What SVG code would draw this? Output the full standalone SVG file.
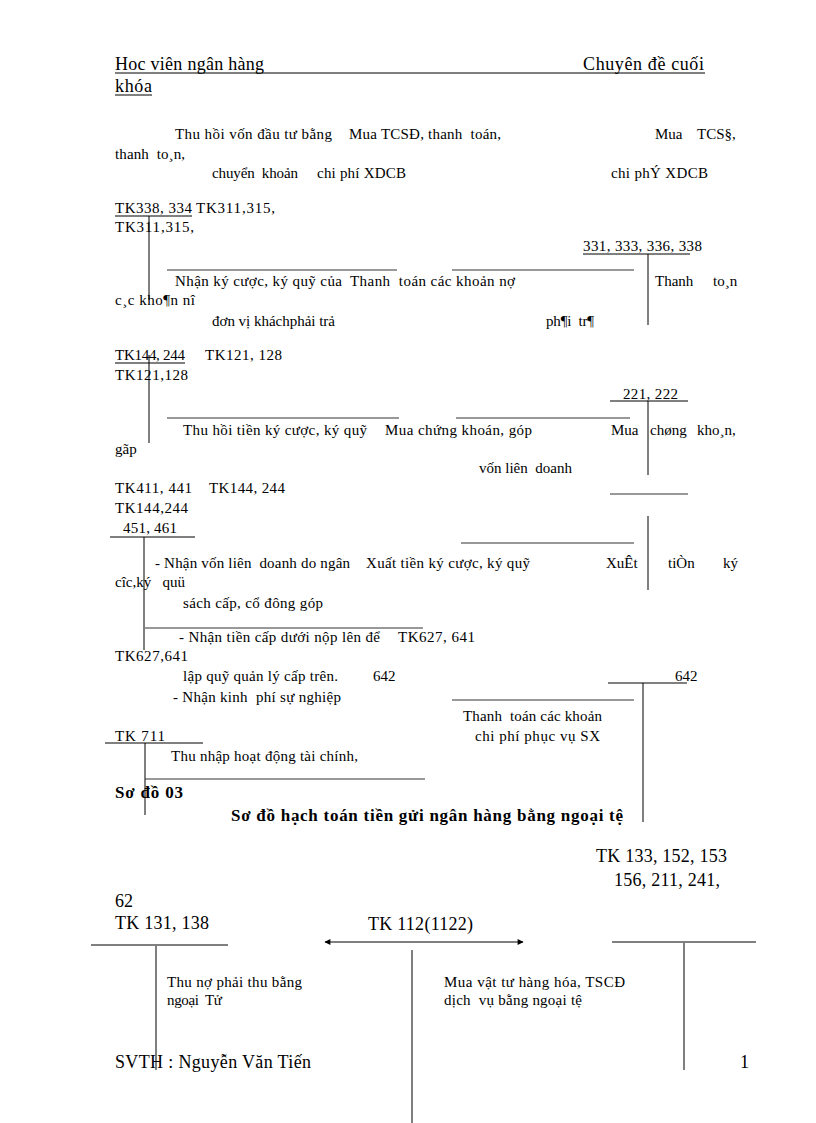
<svg xmlns="http://www.w3.org/2000/svg" width="816" height="1123" viewBox="0 0 816 1123">
<style>
text{font-family:"Liberation Serif","DejaVu Serif",serif;fill:#000;white-space:pre}
.b{font-size:15px}
.h{font-size:18px}
.m{font-size:18px}
.t{font-size:17px;font-weight:bold}
.s{font-size:15px}
line{stroke:#000;stroke-width:1}
.g{stroke:#333}
</style>
<defs>
<marker id="ah" viewBox="0 0 10 10" refX="9" refY="5" markerWidth="8" markerHeight="6" orient="auto-start-reverse" markerUnits="userSpaceOnUse">
<path d="M0,0 L10,5 L0,10 z" fill="#000"/>
</marker>
</defs>
<rect width="816" height="1123" fill="#fff"/>
<g id="header">
<text class="h" x="115" y="70" textLength="149">Hoc viên ngân hàng</text>
<text class="h" x="583" y="70" textLength="121">Chuyên đề cuối</text>
<line x1="115" y1="73" x2="705" y2="73"/>
<text class="h" x="115" y="92" textLength="37">khóa</text>
<line x1="115" y1="95" x2="152" y2="95"/>
</g>
<g id="texts">
<text class="b" x="175" y="139" textLength="157">Thu hồi vốn đầu tư bằng</text>
<text class="b" x="349" y="139" textLength="152">Mua TCSĐ, thanh  toán,</text>
<text class="b" x="655" y="139">Mua</text>
<text class="b" x="697" y="139">TCS§,</text>
<text class="b" x="115" y="159" textLength="70">thanh  to¸n,</text>
<text class="b" x="212" y="178" textLength="86">chuyển  khoản</text>
<text class="b" x="317" y="178" textLength="89">chi phí XDCB</text>
<text class="b" x="611" y="178" textLength="97">chi phÝ XDCB</text>
<text class="b" x="115" y="213" textLength="77">TK338, 334</text>
<text class="b" x="196" y="213" textLength="79">TK311,315,</text>
<text class="b" x="115" y="232" textLength="79">TK311,315,</text>
<text class="b" x="583" y="251" textLength="119">331, 333, 336, 338</text>
<text class="b" x="175" y="286" textLength="167">Nhận ký cược, ký quỹ của</text>
<text class="b" x="350" y="286" textLength="165">Thanh  toán các khoản nợ</text>
<text class="b" x="655" y="286">Thanh</text>
<text class="b" x="713" y="286">to¸n</text>
<text class="b" x="115" y="305" textLength="80">c¸c kho¶n nî</text>
<text class="b" x="212" y="326" textLength="123">đơn vị kháchphải trả</text>
<text class="b" x="546" y="326" textLength="48">ph¶i  tr¶</text>
<text class="b" x="115" y="360" textLength="70">TK144, 244</text>
<text class="b" x="205" y="360" textLength="77">TK121, 128</text>
<text class="b" x="115" y="380" textLength="73">TK121,128</text>
<text class="b" x="623" y="399" textLength="55">221, 222</text>
<text class="b" x="183" y="435" textLength="184">Thu hồi tiền ký cược, ký quỹ</text>
<text class="b" x="385" y="435" textLength="147">Mua chứng khoán, góp</text>
<text class="b" x="611" y="435">Mua</text>
<text class="b" x="650" y="435">chøng</text>
<text class="b" x="697" y="435">kho¸n,</text>
<text class="b" x="115" y="454">gãp</text>
<text class="b" x="479" y="473" textLength="93">vốn liên  doanh</text>
<text class="b" x="115" y="493" textLength="77">TK411, 441</text>
<text class="b" x="209" y="493" textLength="76">TK144, 244</text>
<text class="b" x="115" y="513" textLength="73">TK144,244</text>
<text class="b" x="123" y="533" textLength="54">451, 461</text>
<text class="b" x="155" y="568" textLength="195">- Nhận vốn liên  doanh do ngân</text>
<text class="b" x="366" y="568" textLength="164">Xuất tiền ký cược, ký quỹ</text>
<text class="b" x="606" y="568">XuÊt</text>
<text class="b" x="668" y="568">tiÒn</text>
<text class="b" x="723" y="568">ký</text>
<text class="b" x="115" y="587">cîc,ký   quü</text>
<text class="b" x="183" y="608" textLength="140">sách cấp, cổ đông góp</text>
<text class="b" x="179" y="642" textLength="201">- Nhận tiền cấp dưới nộp lên để</text>
<text class="b" x="398" y="642" textLength="77">TK627, 641</text>
<text class="b" x="115" y="661" textLength="73">TK627,641</text>
<text class="b" x="183" y="681" textLength="155">lập quỹ quản lý cấp trên.</text>
<text class="b" x="373" y="681">642</text>
<text class="b" x="675" y="681">642</text>
<text class="b" x="173" y="702" textLength="168">- Nhận kinh  phí sự nghiệp</text>
<text class="b" x="463" y="721" textLength="139">Thanh  toán các khoản</text>
<text class="b" x="475" y="741" textLength="125">chi phí phục vụ SX</text>
<text class="b" x="115" y="741" textLength="50">TK 711</text>
<text class="b" x="171" y="761" textLength="187">Thu nhập hoạt động tài chính,</text>
</g>
<g id="title">
<text class="t" x="115" y="798" textLength="68">Sơ đồ 03</text>
<text class="t" x="231" y="821" textLength="392">Sơ đồ hạch toán tiền gửi ngân hàng bằng ngoại tệ</text>
</g>
<g id="tk133">
<text class="m" x="596" y="862" textLength="131">TK 133, 152, 153</text>
<text class="m" x="614" y="886" textLength="106">156, 211, 241,</text>
<line x1="612" y1="942" x2="756" y2="942"/>
<line x1="684" y1="943" x2="684" y2="1070"/>
</g>
<g id="tk131">
<text class="m" x="115" y="907">62</text>
<text class="m" x="115" y="929" textLength="94">TK 131, 138</text>
<line x1="91" y1="945" x2="228" y2="945"/>
<line x1="156" y1="946" x2="156" y2="1070"/>
<text class="s" x="167" y="987" textLength="135">Thu nợ phải thu bằng</text>
<text class="s" x="167" y="1005" textLength="55">ngoại  Tử</text>
</g>
<g id="tk112">
<text class="m" x="368" y="930" textLength="105">TK 112(1122)</text>
<line x1="412" y1="950" x2="412" y2="1123"/>
<text class="s" x="444" y="987" textLength="181">Mua vật tư hàng hóa, TSCĐ</text>
<text class="s" x="444" y="1005" textLength="138">dịch  vụ bằng ngoại tệ</text>
</g>
<g id="connectors">
<line x1="325" y1="942" x2="523" y2="942" marker-start="url(#ah)" marker-end="url(#ah)"/>
<line x1="115" y1="216" x2="192" y2="216"/>
<line x1="583" y1="254" x2="690" y2="254"/>
<line x1="115" y1="363" x2="185" y2="363"/>
<line x1="610" y1="401" x2="688" y2="401"/>
<line x1="110" y1="537" x2="195" y2="537"/>
<line x1="608" y1="683" x2="687" y2="683"/>
<line x1="105" y1="743" x2="203" y2="743"/>
<line x1="149" y1="216" x2="149" y2="300"/>
<line x1="149" y1="355" x2="149" y2="443"/>
<line x1="648" y1="254" x2="648" y2="325"/>
<line x1="648" y1="401" x2="648" y2="475"/>
<line x1="648" y1="516" x2="648" y2="590"/>
<line x1="144" y1="537" x2="144" y2="650"/>
<line x1="643" y1="683" x2="643" y2="822"/>
<line x1="145" y1="743" x2="145" y2="815"/>
<line class="g" x1="167" y1="270" x2="397" y2="270"/>
<line class="g" x1="452" y1="270" x2="634" y2="270"/>
<line class="g" x1="167" y1="418" x2="399" y2="418"/>
<line class="g" x1="456" y1="418" x2="630" y2="418"/>
<line class="g" x1="610" y1="494" x2="688" y2="494"/>
<line class="g" x1="461" y1="543" x2="634" y2="543"/>
<line class="g" x1="145" y1="628" x2="423" y2="628"/>
<line class="g" x1="452" y1="700" x2="634" y2="700"/>
<line class="g" x1="145" y1="779" x2="425" y2="779"/>
</g>
<g id="text-footer">
<text class="h" x="115" y="1068" textLength="196">SVTH : Nguyễn Văn Tiến</text>
<text class="h" x="740" y="1068">1</text>
</g>
</svg>
